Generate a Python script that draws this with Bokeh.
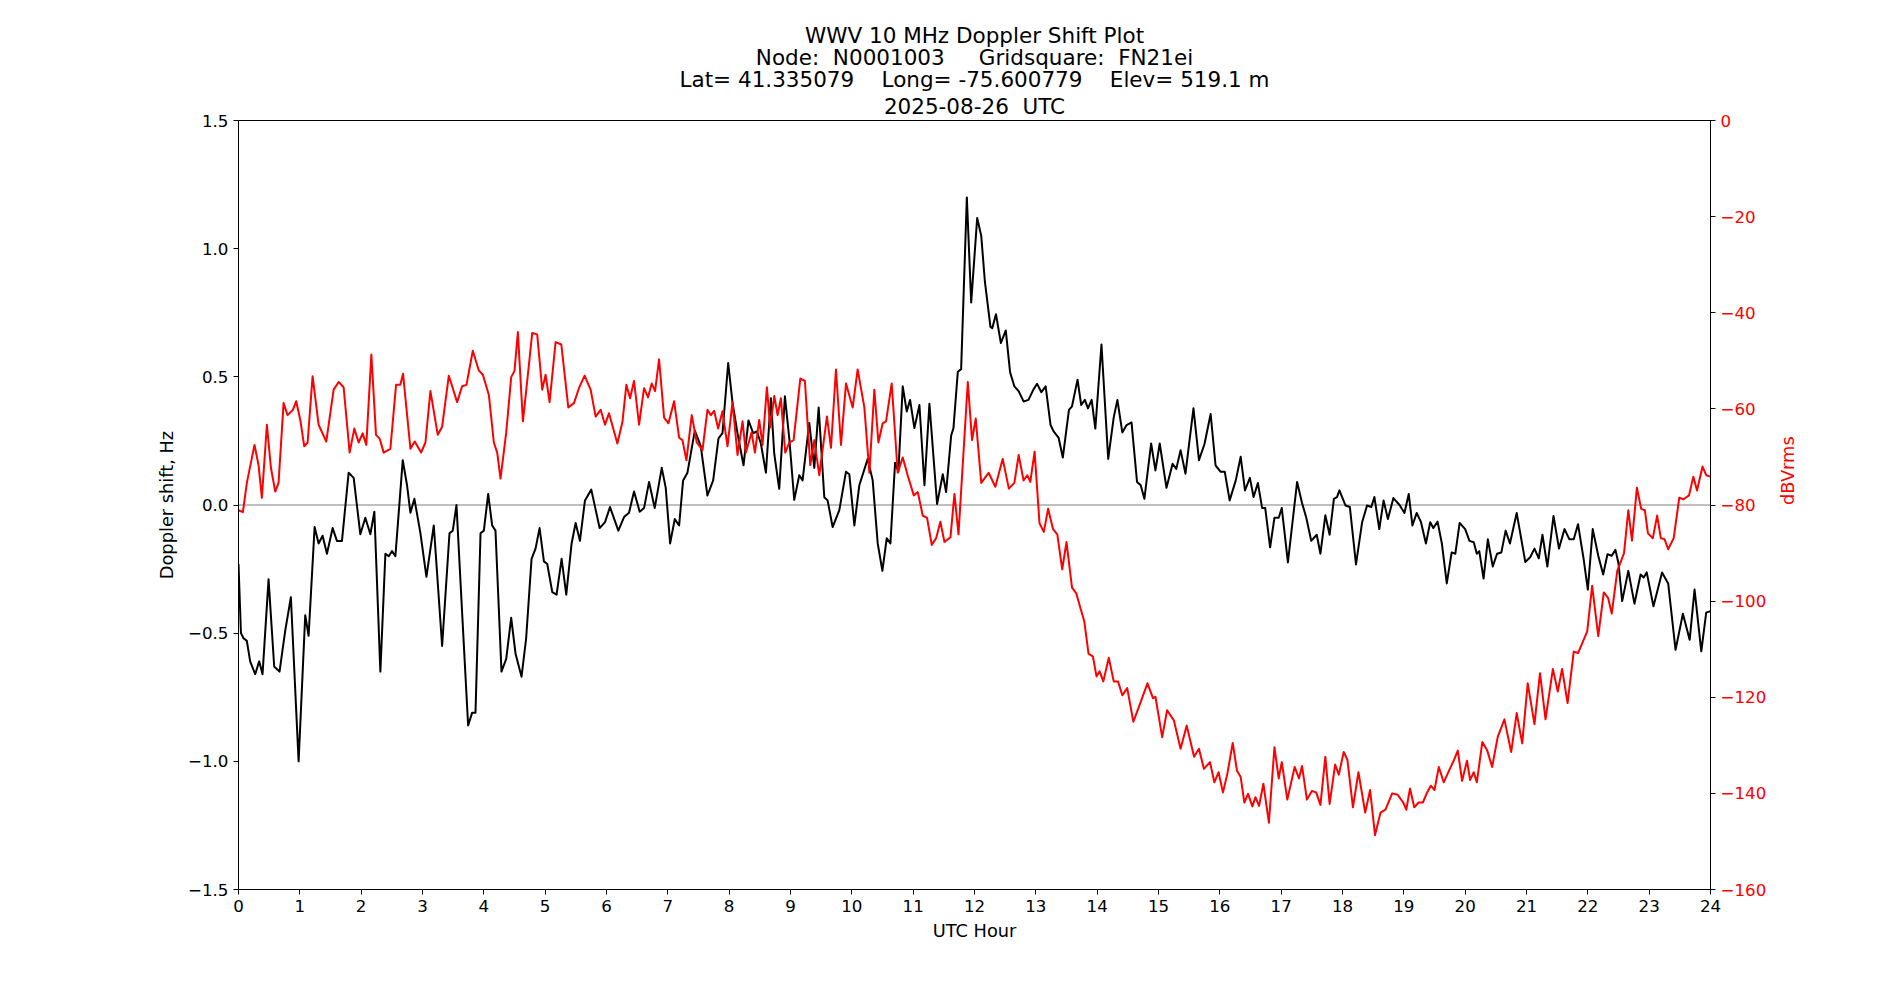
import math

from bokeh.plotting import figure
from bokeh.models import (Range1d, LinearAxis, FixedTicker, Span, Title,
                          CustomJSTickFormatter, ColumnDataSource)
from bokeh.embed import file_html
from bokeh.resources import INLINE

# ---- data -------------------------------------------------------------
doppler_hours = [
    0.0, 0.04, 0.082, 0.136, 0.19, 0.272, 0.337, 0.392, 0.49, 0.582, 0.669, 0.762, 0.854, 0.98,
    1.088, 1.143, 1.241, 1.306, 1.371, 1.442, 1.535, 1.605, 1.687, 1.796, 1.878, 1.986,
    2.068, 2.15, 2.215, 2.313, 2.395, 2.449, 2.503, 2.558, 2.678, 2.748, 2.803, 2.868, 2.966,
    3.064, 3.184, 3.32, 3.44, 3.494, 3.554, 3.646, 3.744, 3.81, 3.864, 3.946,
    4.0, 4.071, 4.136, 4.19, 4.288, 4.365, 4.446, 4.517, 4.615, 4.69, 4.778, 4.843, 4.909, 4.98,
    5.034, 5.116, 5.186, 5.268, 5.344, 5.431, 5.497, 5.567, 5.649, 5.752, 5.888, 5.976,
    6.057, 6.193, 6.286, 6.367, 6.449, 6.541, 6.612, 6.694, 6.786, 6.901, 6.966,
    7.037, 7.113, 7.184, 7.249, 7.32, 7.44, 7.537, 7.646, 7.739, 7.826, 7.891, 7.984,
    8.054, 8.136, 8.234, 8.315, 8.392, 8.452, 8.517, 8.599, 8.68, 8.735, 8.816, 8.909, 8.98,
    9.061, 9.143, 9.197, 9.306, 9.388, 9.459, 9.551, 9.605, 9.687, 9.796, 9.905, 9.959,
    10.041, 10.122, 10.259, 10.34, 10.422, 10.498, 10.569, 10.629, 10.705, 10.759, 10.83, 10.895, 10.95,
    11.02, 11.102, 11.184, 11.265, 11.39, 11.483, 11.537, 11.619, 11.657, 11.728, 11.782, 11.875, 11.946,
    12.044, 12.11, 12.17, 12.26, 12.29, 12.35, 12.43, 12.51, 12.58, 12.65, 12.72, 12.80, 12.88, 12.96,
    13.02, 13.09, 13.16, 13.24, 13.29, 13.37, 13.44, 13.54, 13.59, 13.68, 13.74, 13.80, 13.85, 13.91, 13.97,
    14.07, 14.18, 14.27, 14.33, 14.41, 14.48, 14.56, 14.65, 14.71, 14.77, 14.88, 14.95,
    15.02, 15.13, 15.23, 15.29, 15.36, 15.44, 15.57, 15.66, 15.75, 15.85, 15.93,
    16.01, 16.08, 16.16, 16.26, 16.34, 16.41, 16.49, 16.55, 16.62, 16.69, 16.74, 16.82, 16.89, 16.96,
    17.01, 17.11, 17.26, 17.34, 17.41, 17.49, 17.58, 17.64, 17.72, 17.79, 17.86, 17.91, 17.95,
    18.05, 18.12, 18.22, 18.32, 18.40, 18.47, 18.52, 18.60, 18.67, 18.74, 18.83, 18.93,
    19.01, 19.08, 19.14, 19.21, 19.28, 19.36, 19.43, 19.48, 19.55, 19.62, 19.70, 19.78, 19.84, 19.91,
    20.0, 20.07, 20.14, 20.19, 20.23, 20.30, 20.37, 20.45, 20.52, 20.59, 20.66, 20.73, 20.84, 20.98,
    21.06, 21.13, 21.20, 21.26, 21.34, 21.44, 21.53, 21.62, 21.70, 21.77, 21.84, 21.93,
    22.00, 22.08, 22.17, 22.25, 22.32, 22.39, 22.45, 22.50, 22.56, 22.66, 22.76, 22.86, 22.91, 22.96,
    23.07, 23.21, 23.31, 23.43, 23.55, 23.66, 23.74, 23.85, 23.93, 24.0,
]
doppler_hz = [
    -0.23, -0.50, -0.52, -0.53, -0.61, -0.66, -0.61, -0.66, -0.29, -0.63, -0.65, -0.49, -0.36, -1.00,
    -0.43, -0.51, -0.086, -0.15, -0.12, -0.19, -0.09, -0.14, -0.14, 0.126, 0.106, -0.114,
    -0.05, -0.114, -0.026, -0.65, -0.19, -0.20, -0.18, -0.20, 0.175, 0.077, -0.03, 0.024, -0.11,
    -0.28, -0.08, -0.55, -0.11, -0.10, 0.0, -0.42, -0.86, -0.81, -0.81, -0.11,
    -0.10, 0.043, -0.08, -0.10, -0.65, -0.60, -0.44, -0.58, -0.67, -0.52, -0.21, -0.17, -0.09, -0.22,
    -0.23, -0.34, -0.35, -0.21, -0.35, -0.15, -0.07, -0.14, 0.018, 0.06, -0.09, -0.067,
    -0.008, -0.10, -0.047, -0.03, 0.053, -0.026, -0.012, 0.09, -0.012, 0.145, 0.067,
    -0.15, -0.055, -0.08, 0.096, 0.126, 0.29, 0.23, 0.037, 0.096, 0.26, 0.28, 0.554,
    0.40, 0.28, 0.155, 0.33, 0.28, 0.287, 0.24, 0.126, 0.416, 0.20, 0.063, 0.424, 0.26,
    0.02, 0.116, 0.096, 0.32, 0.145, 0.38, 0.03, 0.018, -0.086, -0.02, 0.13, 0.12,
    -0.08, 0.077, 0.18, 0.096, -0.15, -0.257, -0.13, -0.15, 0.165, 0.13, 0.463, 0.365, 0.41,
    0.30, 0.39, 0.077, 0.395, 0.004, 0.12, 0.05, 0.27, 0.30, 0.52, 0.53, 1.20, 0.79,
    1.12, 1.05, 0.87, 0.695, 0.69, 0.744, 0.632, 0.681, 0.518, 0.463, 0.444, 0.404, 0.41, 0.45,
    0.473, 0.44, 0.463, 0.312, 0.287, 0.263, 0.185, 0.371, 0.385, 0.489, 0.39, 0.41, 0.377, 0.41, 0.298,
    0.626, 0.18, 0.342, 0.41, 0.283, 0.312, 0.322, 0.09, 0.077, 0.024, 0.24, 0.135,
    0.24, 0.067, 0.161, 0.141, 0.214, 0.122, 0.377, 0.175, 0.238, 0.355, 0.155,
    0.13, 0.13, 0.018, 0.096, 0.188, 0.057, 0.106, 0.031, 0.086, -0.012, -0.012, -0.165, -0.05, -0.05,
    -0.012, -0.224, 0.09, 0.008, -0.05, -0.14, -0.116, -0.19, -0.04, -0.116, 0.024, 0.031, 0.057,
    -0.002, -0.008, -0.232, -0.067, -0.002, -0.008, 0.031, -0.094, 0.018, -0.055, 0.027, 0.0,
    -0.031, 0.043, -0.08, -0.031, -0.067, -0.15, -0.067, -0.09, -0.065, -0.15, -0.306, -0.185, -0.19, -0.07,
    -0.094, -0.14, -0.145, -0.19, -0.18, -0.287, -0.134, -0.24, -0.19, -0.185, -0.10, -0.15, -0.031, -0.222,
    -0.204, -0.17, -0.208, -0.116, -0.24, -0.043, -0.17, -0.094, -0.134, -0.134, -0.075, -0.208,
    -0.33, -0.094, -0.198, -0.271, -0.192, -0.198, -0.175, -0.228, -0.375, -0.257, -0.385, -0.271, -0.283, -0.263,
    -0.395, -0.263, -0.306, -0.565, -0.424, -0.526, -0.33, -0.571, -0.42, -0.414,
]

power_hours = [
    0.0, 0.071, 0.136, 0.261, 0.327, 0.381, 0.463, 0.528, 0.599, 0.653, 0.735, 0.8, 0.887, 0.941,
    1.007, 1.072, 1.127, 1.208, 1.306, 1.431, 1.551, 1.633, 1.714, 1.812, 1.888, 1.959,
    2.024, 2.084, 2.166, 2.242, 2.302, 2.367, 2.476, 2.569, 2.639, 2.683, 2.803, 2.873, 2.977,
    3.048, 3.129, 3.249, 3.32, 3.429, 3.565, 3.646, 3.717, 3.82, 3.918, 3.984,
    4.082, 4.163, 4.218, 4.272, 4.365, 4.446, 4.5, 4.555, 4.637, 4.718, 4.789, 4.87, 4.952,
    5.007, 5.072, 5.17, 5.263, 5.377, 5.469, 5.551, 5.643, 5.741, 5.823, 5.905, 5.976,
    6.041, 6.177, 6.259, 6.324, 6.384, 6.449, 6.531, 6.612, 6.677, 6.737, 6.792, 6.857, 6.939,
    7.01, 7.102, 7.184, 7.238, 7.303, 7.39, 7.472, 7.565, 7.646, 7.701, 7.755, 7.82, 7.891, 7.973,
    8.054, 8.136, 8.218, 8.272, 8.365, 8.42, 8.49, 8.544, 8.615, 8.67, 8.735, 8.79, 8.843, 8.914, 8.98,
    9.05, 9.16, 9.235, 9.322, 9.388, 9.469, 9.594, 9.66, 9.741, 9.823, 9.905,
    10.014, 10.095, 10.204, 10.286, 10.367, 10.433, 10.503, 10.558, 10.65, 10.748, 10.83, 10.91,
    11.01, 11.075, 11.156, 11.227, 11.303, 11.374, 11.444, 11.51, 11.608, 11.673, 11.739, 11.81, 11.891, 11.96,
    12.02, 12.11, 12.23, 12.34, 12.46, 12.56, 12.65, 12.72, 12.80, 12.86, 12.91, 12.98,
    13.06, 13.13, 13.20, 13.28, 13.35, 13.43, 13.50, 13.59, 13.66, 13.73, 13.79, 13.86, 13.93, 13.99,
    14.04, 14.10, 14.19, 14.27, 14.34, 14.41, 14.49, 14.59, 14.68, 14.82, 14.91, 14.95,
    15.06, 15.14, 15.25, 15.36, 15.46, 15.58, 15.66, 15.74, 15.84, 15.91, 15.98,
    16.05, 16.12, 16.21, 16.28, 16.34, 16.40, 16.46, 16.53, 16.58, 16.64, 16.71, 16.80, 16.89, 16.96,
    17.01, 17.10, 17.22, 17.29, 17.34, 17.42, 17.50, 17.57, 17.64, 17.72, 17.79, 17.88, 17.94,
    18.02, 18.08, 18.17, 18.26, 18.37, 18.45, 18.53, 18.62, 18.70, 18.81, 18.90, 18.99,
    19.04, 19.10, 19.17, 19.24, 19.31, 19.38, 19.44, 19.50, 19.57, 19.65, 19.75, 19.82, 19.88, 19.95,
    20.03, 20.08, 20.14, 20.19, 20.28, 20.36, 20.44, 20.53, 20.64, 20.75, 20.84, 20.93,
    21.02, 21.13, 21.22, 21.31, 21.43, 21.51, 21.58, 21.67, 21.77, 21.84, 21.99,
    22.07, 22.17, 22.26, 22.33, 22.39, 22.48, 22.59, 22.66, 22.72, 22.80, 22.87, 22.93, 22.98,
    23.06, 23.13, 23.19, 23.25, 23.31, 23.40, 23.49, 23.56, 23.65, 23.72, 23.78, 23.87, 23.93, 24.0,
]
power_dbv = [
    -81.1, -81.5, -75.4, -67.5, -71.7, -78.5, -63.3, -72.2, -77.2, -75.4, -58.8, -61.3, -60.2, -58.4,
    -62.3, -67.8, -67.0, -53.2, -63.3, -66.8, -56.0, -54.4, -55.5, -69.1, -64.1, -67.0,
    -65.1, -67.5, -48.7, -65.4, -66.2, -69.1, -68.3, -55.0, -55.0, -52.7, -68.3, -66.8, -69.1,
    -67.0, -56.3, -65.4, -63.7, -53.1, -58.6, -55.3, -55.0, -47.9, -52.0, -52.9,
    -57.1, -67.0, -69.1, -74.5, -64.9, -53.4, -52.1, -44.0, -62.6, -52.9, -44.2, -44.5, -56.0,
    -52.9, -58.6, -46.1, -46.6, -59.7, -58.8, -55.7, -53.1, -56.0, -61.6, -60.2, -63.3,
    -60.9, -67.2, -62.8, -55.0, -57.8, -54.2, -63.3, -55.7, -57.6, -54.7, -56.3, -49.7, -61.8,
    -63.0, -58.4, -66.0, -66.5, -70.7, -61.3, -67.0, -68.6, -60.2, -61.3, -60.4, -64.1, -60.5, -67.8,
    -58.6, -69.6, -62.6, -69.1, -64.9, -69.1, -62.3, -67.5, -55.5, -63.9, -57.3, -61.3, -57.8, -69.1, -67.0,
    -66.5, -53.7, -54.2, -71.7, -66.5, -73.8, -61.6, -68.1, -51.8, -67.5, -54.7,
    -59.7, -51.8, -59.7, -73.3, -56.0, -67.0, -63.0, -62.6, -54.7, -73.3, -70.1, -73.8,
    -78.0, -77.3, -82.2, -82.7, -88.3, -86.9, -83.5, -87.7, -86.7, -77.7, -86.1, -71.2, -54.4, -66.5,
    -62.0, -75.4, -73.3, -76.2, -70.4, -76.6, -75.4, -69.6, -74.9, -73.8, -75.2, -68.9,
    -83.8, -85.6, -80.8, -85.0, -86.1, -93.4, -87.7, -97.2, -98.4, -101.6, -104.2, -111.0, -111.5, -115.7,
    -114.6, -116.7, -111.8, -116.7, -116.7, -119.6, -118.1, -125.1, -122.0, -117.1, -120.2, -119.9,
    -128.3, -122.7, -124.8, -130.7, -125.9, -132.4, -130.7, -134.9, -133.5, -137.7, -135.6,
    -139.8, -136.1, -129.5, -135.3, -136.6, -141.9, -140.1, -142.7, -140.8, -142.6, -138.0, -146.1, -130.4, -136.9,
    -133.5, -141.3, -134.5, -136.9, -134.3, -141.3, -139.5, -139.8, -142.4, -132.4, -142.2, -134.0, -136.1,
    -131.4, -133.0, -142.9, -135.6, -144.0, -139.3, -148.7, -144.0, -143.4, -140.0, -140.3, -141.9,
    -143.4, -139.0, -142.9, -141.9, -141.9, -139.8, -138.4, -139.3, -134.5, -137.7, -134.9, -133.0, -131.1, -137.4,
    -133.2, -137.2, -135.6, -137.7, -129.3, -131.1, -134.5, -128.3, -124.6, -131.4, -123.3, -129.6,
    -117.1, -125.6, -115.0, -124.6, -114.1, -118.8, -114.1, -121.2, -110.5, -110.8, -106.3,
    -96.8, -107.3, -98.2, -99.3, -102.6, -93.7, -90.0, -81.1, -87.4, -76.4, -80.8, -81.1, -85.9,
    -86.9, -82.2, -86.9, -87.1, -89.2, -86.9, -78.5, -78.8, -78.0, -74.1, -77.0, -72.0, -73.8, -74.1,
]

hour_ticks = list(range(0, 25))
doppler_ticks = [-1.5, -1.0, -0.5, 0.0, 0.5, 1.0, 1.5]
power_ticks = [-160, -140, -120, -100, -80, -60, -40, -20, 0]

title_lines = [
    "WWV 10 MHz Doppler Shift Plot",
    "Node:\u00a0 N0001003\u00a0\u00a0\u00a0\u00a0 Gridsquare:\u00a0 FN21ei",
    "Lat= 41.335079\u00a0\u00a0\u00a0 Long= -75.600779\u00a0\u00a0\u00a0 Elev= 519.1 m",
    "2025-08-26\u00a0 UTC",
]

# ---- figure -----------------------------------------------------------
FONT = "DejaVu Sans"
TICK_SIZE = "16.7px"
LABEL_SIZE = "17.8px"
TITLE_SIZE = "21.5px"

p = figure(width=1900, height=1000, output_backend="svg", toolbar_location=None,
           x_range=Range1d(0, 24), y_range=Range1d(-1.5, 1.5),
           min_border_left=238, min_border_right=190,
           min_border_top=120, min_border_bottom=111,
           background_fill_color="white", border_fill_color="white")
p.extra_y_ranges = {"dbv": Range1d(-160, 0)}

p.xgrid.visible = False
p.ygrid.visible = False
p.outline_line_color = "black"
p.outline_line_width = 1
p.outline_line_alpha = 1.0

# title block: p.title is the outermost line, extra lines stack towards the frame
p.title.text = title_lines[0]
title_objs = [p.title]
for line in reversed(title_lines[1:]):
    t = Title(text=line)
    p.add_layout(t, "above")
    title_objs.append(t)
for t in title_objs:
    t.align = "center"
    t.text_font = FONT
    t.text_font_size = TITLE_SIZE
    t.text_font_style = "normal"
    t.text_color = "black"
    t.standoff = -5
    t.offset = 0
title_objs[1].standoff = 4   # the date line, nearest the frame

# zero reference line
p.add_layout(Span(location=0, dimension="width", line_color="#808080",
                  line_width=1, level="underlay"))

# Doppler shift trace
src_d = ColumnDataSource(dict(h=doppler_hours, v=doppler_hz))
p.line("h", "v", source=src_d, line_color="black", line_width=2, line_join="round")

# received power trace on the secondary scale
src_p = ColumnDataSource(dict(h=power_hours, v=power_dbv))
p.line("h", "v", source=src_p, line_color="red", line_width=2, line_join="round",
       y_range_name="dbv")

# ---- axes -------------------------------------------------------------
right = LinearAxis(y_range_name="dbv")
p.add_layout(right, "right")

xa = p.xaxis[0]
ya = p.yaxis[0]

xa.ticker = FixedTicker(ticks=hour_ticks)
ya.ticker = FixedTicker(ticks=doppler_ticks)
right.ticker = FixedTicker(ticks=power_ticks)

ya.formatter = CustomJSTickFormatter(code="return tick.toFixed(1).replace('-', '\\u2212');")
right.formatter = CustomJSTickFormatter(code="return tick.toFixed(0).replace('-', '\\u2212');")

xa.axis_label = "UTC Hour"
ya.axis_label = "Doppler shift, Hz"
right.axis_label = "dBVrms"

for ax in (xa, ya, right):
    ax.major_tick_in = 0
    ax.major_tick_out = 5
    ax.minor_tick_in = 0
    ax.minor_tick_out = 0
    ax.major_tick_line_color = "black"
    ax.axis_line_color = "black"
    ax.major_label_text_font = FONT
    ax.major_label_text_font_size = TICK_SIZE
    ax.major_label_standoff = 5
    ax.axis_label_text_font = FONT
    ax.axis_label_text_font_size = LABEL_SIZE
    ax.axis_label_text_font_style = "normal"
    ax.axis_label_text_color = "black"
    ax.major_label_text_color = "black"

xa.axis_label_standoff = 5
ya.axis_label_standoff = 8
right.axis_label_standoff = 18
right.major_label_text_color = "red"
right.axis_label_text_color = "red"
# the right-hand title reads bottom to top, centred on its axis
if "axis_label_orientation" in right.properties():
    right.axis_label_orientation = math.pi / 2
right.axis_label_text_align = "center"
right.axis_label_text_baseline = "middle"

open("out.html", "w").write(file_html(p, INLINE))
